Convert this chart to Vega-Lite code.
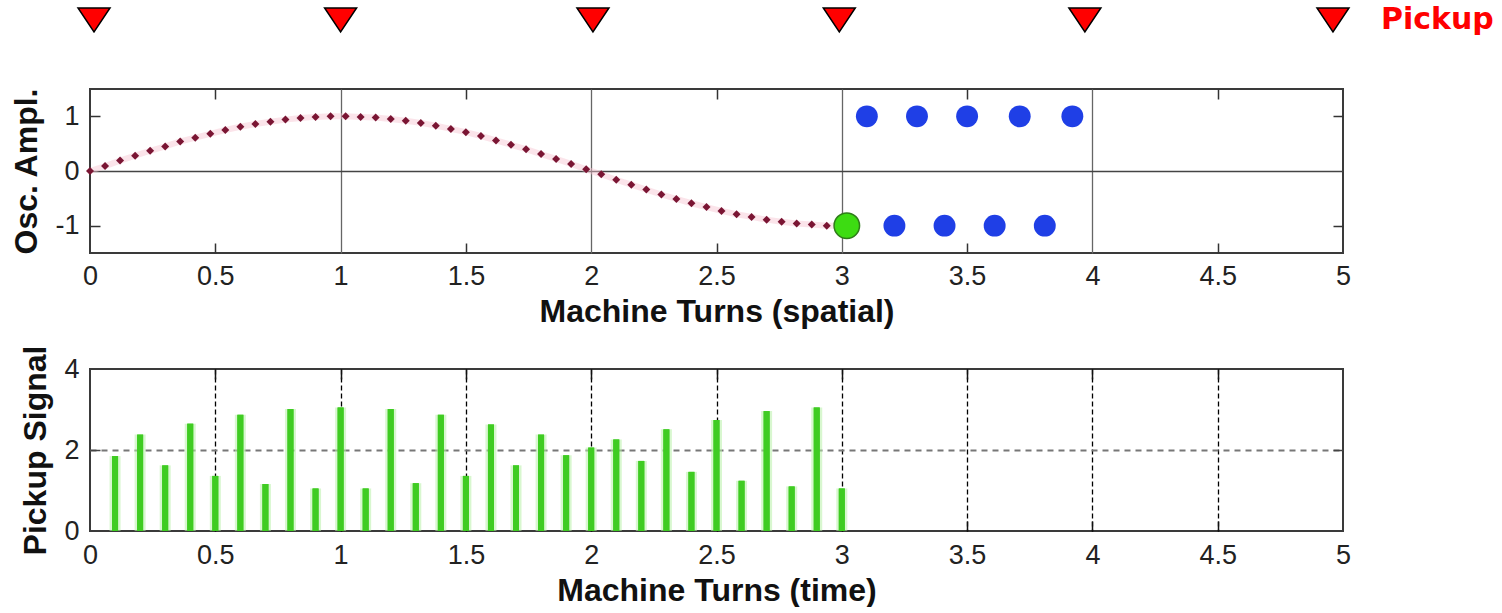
{
  "$schema": "https://vega.github.io/schema/vega-lite/v6.json",
  "background": "white",
  "padding": {"left": 9, "top": 0, "right": 0, "bottom": 0},
  "spacing": 46,
  "config": {
    "font": "Liberation Sans",
    "axis": {
      "labelFont": "Liberation Sans",
      "labelFontSize": 27,
      "labelColor": "#222222",
      "labelFlush": false,
      "labelOverlap": false,
      "titleFont": "Liberation Sans",
      "titleFontSize": 32,
      "titleFontWeight": "bold",
      "titleColor": "#111111"
    },
    "view": {"stroke": "#3a3a3a", "strokeWidth": 2}
  },
  "datasets": {
    "pickups": [
      {"turn": 0.016, "label": null},
      {"turn": 1.0, "label": null},
      {"turn": 2.007, "label": null},
      {"turn": 2.99, "label": null},
      {"turn": 3.97, "label": null},
      {"turn": 4.96, "label": "Pickup"}
    ],
    "wave": [
      {"turn": 0.0, "amp": 0.0}, {"turn": 0.06, "amp": 0.09}, {"turn": 0.12, "amp": 0.19}, {"turn": 0.18, "amp": 0.28},
      {"turn": 0.24, "amp": 0.37}, {"turn": 0.3, "amp": 0.45}, {"turn": 0.36, "amp": 0.54}, {"turn": 0.42, "amp": 0.61},
      {"turn": 0.48, "amp": 0.68}, {"turn": 0.54, "amp": 0.75}, {"turn": 0.6, "amp": 0.81}, {"turn": 0.66, "amp": 0.86},
      {"turn": 0.72, "amp": 0.9}, {"turn": 0.78, "amp": 0.94}, {"turn": 0.84, "amp": 0.97}, {"turn": 0.9, "amp": 0.99},
      {"turn": 0.96, "amp": 1.0}, {"turn": 1.02, "amp": 1.0}, {"turn": 1.08, "amp": 0.99}, {"turn": 1.14, "amp": 0.98},
      {"turn": 1.2, "amp": 0.95}, {"turn": 1.26, "amp": 0.92}, {"turn": 1.32, "amp": 0.88}, {"turn": 1.38, "amp": 0.83},
      {"turn": 1.44, "amp": 0.77}, {"turn": 1.5, "amp": 0.71}, {"turn": 1.56, "amp": 0.64}, {"turn": 1.62, "amp": 0.56},
      {"turn": 1.68, "amp": 0.48}, {"turn": 1.74, "amp": 0.4}, {"turn": 1.8, "amp": 0.31}, {"turn": 1.86, "amp": 0.22},
      {"turn": 1.92, "amp": 0.13}, {"turn": 1.98, "amp": 0.03}, {"turn": 2.04, "amp": -0.06}, {"turn": 2.1, "amp": -0.16},
      {"turn": 2.16, "amp": -0.25}, {"turn": 2.22, "amp": -0.34}, {"turn": 2.28, "amp": -0.43}, {"turn": 2.34, "amp": -0.51},
      {"turn": 2.4, "amp": -0.59}, {"turn": 2.46, "amp": -0.66}, {"turn": 2.52, "amp": -0.73}, {"turn": 2.58, "amp": -0.79},
      {"turn": 2.64, "amp": -0.84}, {"turn": 2.7, "amp": -0.89}, {"turn": 2.76, "amp": -0.93}, {"turn": 2.82, "amp": -0.96},
      {"turn": 2.88, "amp": -0.98}, {"turn": 2.94, "amp": -1.0}, {"turn": 3.0, "amp": -1.0}
    ],
    "dots": [
      {"turn": 3.1, "amp": 1}, {"turn": 3.3, "amp": 1}, {"turn": 3.5, "amp": 1}, {"turn": 3.71, "amp": 1}, {"turn": 3.92, "amp": 1},
      {"turn": 3.21, "amp": -1}, {"turn": 3.41, "amp": -1}, {"turn": 3.61, "amp": -1}, {"turn": 3.81, "amp": -1}
    ],
    "marker": [{"turn": 3.02, "amp": -1}],
    "pulses": [
      {"turn": 0.1, "signal": 1.85}, {"turn": 0.2, "signal": 2.38}, {"turn": 0.3, "signal": 1.62}, {"turn": 0.4, "signal": 2.65},
      {"turn": 0.5, "signal": 1.36}, {"turn": 0.6, "signal": 2.87}, {"turn": 0.7, "signal": 1.16}, {"turn": 0.8, "signal": 3.01},
      {"turn": 0.9, "signal": 1.05}, {"turn": 1.0, "signal": 3.05}, {"turn": 1.1, "signal": 1.05}, {"turn": 1.2, "signal": 3.01},
      {"turn": 1.3, "signal": 1.18}, {"turn": 1.4, "signal": 2.87}, {"turn": 1.5, "signal": 1.36}, {"turn": 1.6, "signal": 2.63},
      {"turn": 1.7, "signal": 1.62}, {"turn": 1.8, "signal": 2.38}, {"turn": 1.9, "signal": 1.87}, {"turn": 2.0, "signal": 2.06},
      {"turn": 2.1, "signal": 2.26}, {"turn": 2.2, "signal": 1.73}, {"turn": 2.3, "signal": 2.51}, {"turn": 2.4, "signal": 1.46},
      {"turn": 2.5, "signal": 2.74}, {"turn": 2.6, "signal": 1.24}, {"turn": 2.7, "signal": 2.96}, {"turn": 2.8, "signal": 1.1},
      {"turn": 2.9, "signal": 3.05}, {"turn": 3.0, "signal": 1.05}
    ]
  },
  "vconcat": [
    {
      "width": 1253,
      "height": 40,
      "view": {"stroke": null},
      "data": {"name": "pickups"},
      "layer": [
        {
          "mark": {"type": "point", "shape": "M-1,-0.75L1,-0.75L0,0.75Z", "filled": true, "size": 1024, "fill": "#ff0000", "stroke": "#000000", "strokeWidth": 1.5, "opacity": 1},
          "encoding": {
            "x": {"field": "turn", "type": "quantitative", "scale": {"domain": [0, 5], "nice": false, "zero": false}, "axis": null},
            "y": {"datum": 0.5, "type": "quantitative", "scale": {"domain": [0, 1]}, "axis": null}
          }
        },
        {
          "transform": [{"filter": "datum.label != null"}],
          "mark": {"type": "text", "align": "left", "baseline": "middle", "dx": 48, "fontSize": 30, "fontWeight": "bold", "font": "DejaVu Sans", "color": "#ff0000", "clip": false},
          "encoding": {
            "x": {"field": "turn", "type": "quantitative"},
            "y": {"datum": 0.5, "type": "quantitative"},
            "text": {"field": "label"}
          }
        }
      ]
    },
    {
      "spacing": 16,
      "vconcat": [
        {
          "width": 1253,
          "height": 164,
          "layer": [
            {
              "data": {"name": "wave"},
              "mark": {"type": "line", "color": "#f7c3d0", "strokeWidth": 6, "opacity": 0.45},
              "encoding": {
                "x": {"field": "turn", "type": "quantitative", "scale": {"domain": [0, 5], "nice": false, "zero": false},
                  "axis": {"orient": "bottom", "values": [1, 2, 3, 4], "grid": true, "gridColor": "#666666", "gridWidth": 1.3, "gridOpacity": 1, "ticks": false, "labels": false, "domain": false, "title": null}},
                "y": {"field": "amp", "type": "quantitative", "scale": {"domain": [-1.5, 1.5], "nice": false, "zero": false},
                  "axis": {"orient": "left", "values": [0], "grid": true, "gridColor": "#444444", "gridWidth": 1.6, "gridOpacity": 1, "ticks": false, "labels": false, "domain": false, "title": null}}
              }
            },
            {
              "data": {"name": "wave"},
              "mark": {"type": "point", "shape": "diamond", "filled": true, "size": 64, "color": "#7a1533", "opacity": 1},
              "encoding": {
                "x": {"field": "turn", "type": "quantitative",
                  "axis": {"orient": "bottom", "values": [0, 0.5, 1, 1.5, 2, 2.5, 3, 3.5, 4, 4.5, 5], "labelExpr": "'' + datum.value", "grid": false, "ticks": false, "tickSize": 0, "domain": false, "labelPadding": 10, "title": "Machine Turns (spatial)", "titlePadding": 7}},
                "y": {"field": "amp", "type": "quantitative",
                  "axis": {"orient": "left", "values": [-1, 0, 1], "labelExpr": "'' + datum.value", "grid": false, "ticks": false, "tickSize": 0, "domain": false, "labelPadding": 11, "title": "Osc. Ampl.", "titlePadding": 11}}
              }
            },
            {
              "data": {"name": "dots"},
              "mark": {"type": "circle", "size": 480, "color": "#1f3fe6", "opacity": 1},
              "encoding": {
                "x": {"field": "turn", "type": "quantitative",
                  "axis": {"orient": "bottom", "values": [0.5, 1.5, 2.5, 3.5, 4.5], "grid": false, "ticks": true, "tickSize": -10, "tickWidth": 1.5, "tickColor": "#333333", "labels": false, "domain": false, "title": null}},
                "y": {"field": "amp", "type": "quantitative",
                  "axis": {"orient": "left", "values": [-1, 1], "grid": false, "ticks": true, "tickSize": -10, "tickWidth": 1.5, "tickColor": "#333333", "labels": false, "domain": false, "title": null}}
              }
            },
            {
              "data": {"name": "marker"},
              "mark": {"type": "point", "shape": "circle", "filled": true, "size": 650, "fill": "#3ddc12", "stroke": "#2f7d1a", "strokeWidth": 1.5, "opacity": 1},
              "encoding": {
                "x": {"field": "turn", "type": "quantitative",
                  "axis": {"orient": "top", "values": [0.5, 1.5, 2.5, 3.5, 4.5], "grid": false, "ticks": true, "tickSize": -10, "tickWidth": 1.5, "tickColor": "#333333", "labels": false, "domain": false, "title": null}},
                "y": {"field": "amp", "type": "quantitative",
                  "axis": {"orient": "right", "values": [-1, 1], "grid": false, "ticks": true, "tickSize": -10, "tickWidth": 1.5, "tickColor": "#333333", "labels": false, "domain": false, "title": null}}
              }
            }
          ],
          "resolve": {"axis": {"x": "independent", "y": "independent"}}
        },
        {
          "width": 1253,
          "height": 162,
          "data": {"name": "pulses"},
          "layer": [
            {
              "mark": {"type": "rule", "color": "#b8f0a8", "strokeWidth": 11, "opacity": 0.55},
              "encoding": {
                "x": {"field": "turn", "type": "quantitative", "scale": {"domain": [0, 5], "nice": false, "zero": false},
                  "axis": {"orient": "bottom", "values": [0.5, 1, 1.5, 2, 2.5, 3, 3.5, 4, 4.5], "grid": true, "gridColor": "#000000", "gridWidth": 1.3, "gridDash": [5, 3], "gridOpacity": 1, "ticks": true, "tickSize": -10, "tickWidth": 1.5, "tickColor": "#111111", "labels": false, "domain": false, "title": null}},
                "y": {"field": "signal", "type": "quantitative", "scale": {"domain": [0, 4], "nice": false, "zero": false},
                  "axis": {"orient": "left", "values": [2], "grid": true, "gridColor": "#777777", "gridWidth": 2.2, "gridDash": [6, 5], "gridOpacity": 1, "ticks": true, "tickSize": -10, "tickWidth": 1.5, "tickColor": "#444444", "labels": false, "domain": false, "title": null}},
                "y2": {"datum": 0}
              }
            },
            {
              "mark": {"type": "rule", "color": "#3fcc22", "strokeWidth": 6},
              "encoding": {
                "x": {"field": "turn", "type": "quantitative",
                  "axis": {"orient": "bottom", "values": [0, 0.5, 1, 1.5, 2, 2.5, 3, 3.5, 4, 4.5, 5], "labelExpr": "'' + datum.value", "grid": false, "ticks": false, "tickSize": 0, "domain": false, "labelPadding": 11, "title": "Machine Turns (time)", "titlePadding": 7}},
                "y": {"field": "signal", "type": "quantitative",
                  "axis": {"orient": "left", "values": [0, 2, 4], "labelExpr": "'' + datum.value", "grid": false, "ticks": false, "tickSize": 0, "domain": false, "labelPadding": 11, "title": "Pickup Signal", "titlePadding": 11}},
                "y2": {"datum": 0}
              }
            },
            {
              "mark": {"type": "rule", "color": "#3fcc22", "strokeWidth": 6},
              "encoding": {
                "x": {"field": "turn", "type": "quantitative",
                  "axis": {"orient": "top", "values": [0.5, 1, 1.5, 2, 2.5, 3, 3.5, 4, 4.5], "grid": false, "ticks": true, "tickSize": -10, "tickWidth": 1.5, "tickColor": "#111111", "labels": false, "domain": false, "title": null}},
                "y": {"field": "signal", "type": "quantitative",
                  "axis": {"orient": "right", "values": [2], "grid": false, "ticks": true, "tickSize": -10, "tickWidth": 1.5, "tickColor": "#444444", "labels": false, "domain": false, "title": null}},
                "y2": {"datum": 0}
              }
            }
          ],
          "resolve": {"axis": {"x": "independent", "y": "independent"}}
        }
      ]
    }
  ]
}
